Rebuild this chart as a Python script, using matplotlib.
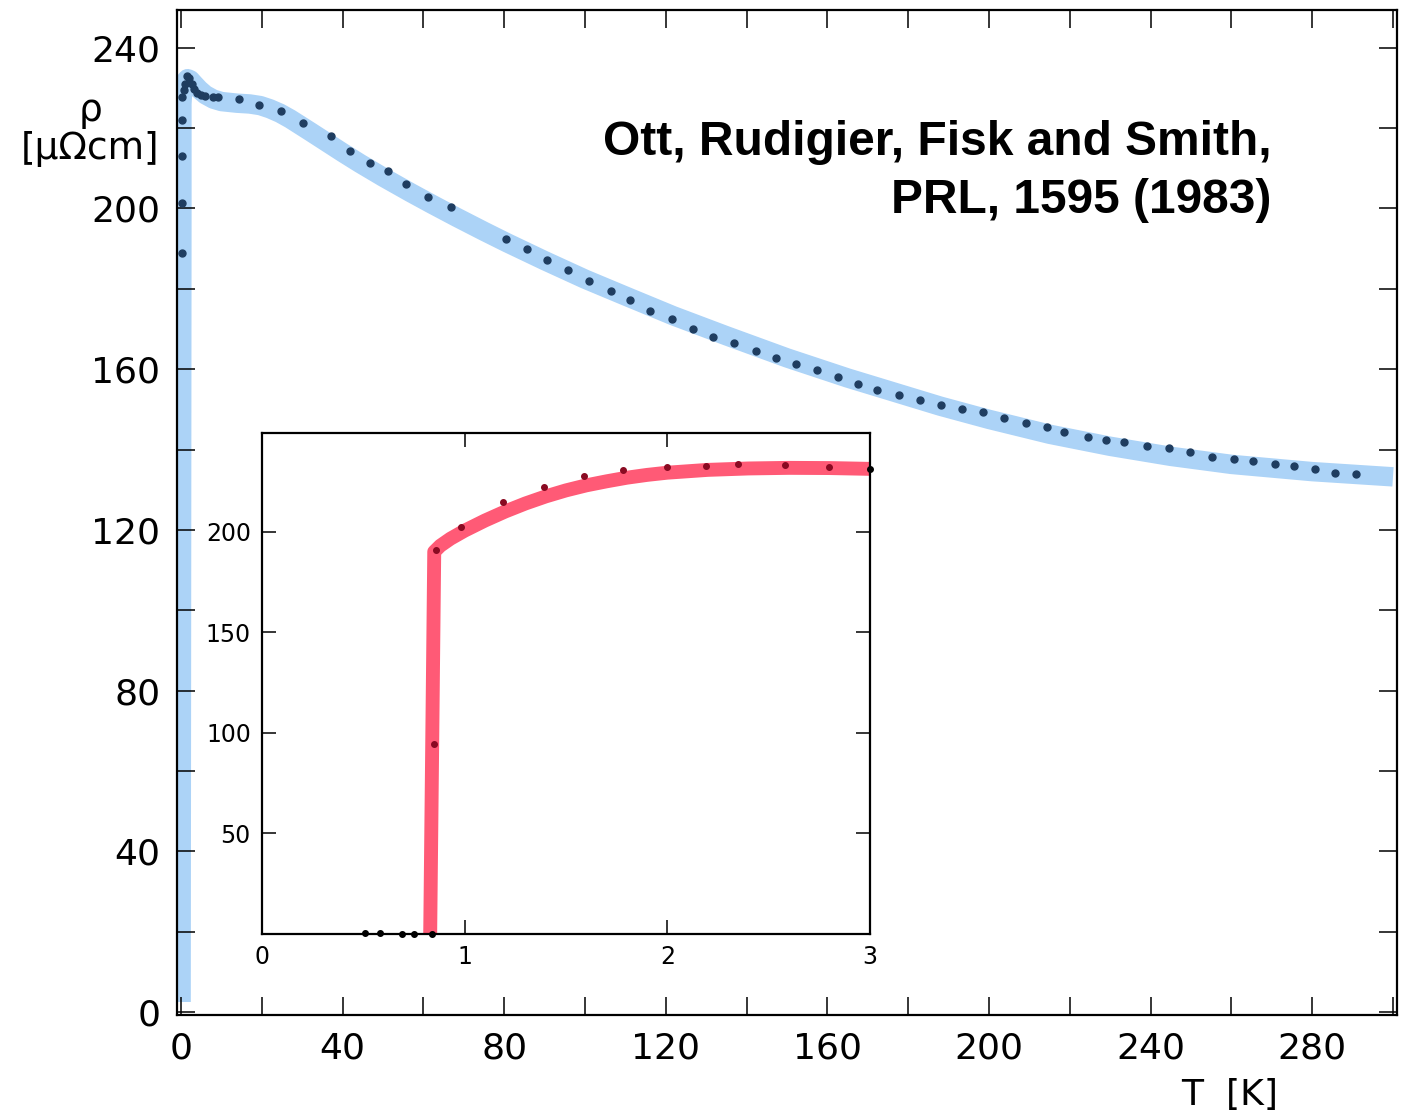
import matplotlib
matplotlib.use("Agg")
import matplotlib.pyplot as plt
from matplotlib.ticker import MultipleLocator

# main panel: measured points (T in K, rho in micro-ohm cm)
T_main = [0.2, 0.2, 0.2, 0.2, 0.3, 0.6, 1.0, 1.5, 2.0, 2.6, 3.2, 4.0, 5.0, 6.0,
          7.9, 9.2, 14.4, 19.3, 24.7, 30.3, 37.1, 41.8, 46.8, 51.1, 55.7,
          61.2, 66.8, 80.4, 85.6, 90.7, 95.9, 101.0, 106.4, 111.1, 116.1,
          121.5, 126.6, 131.6, 136.9, 142.3, 147.2, 152.2, 157.4, 162.6,
          167.6, 172.3, 177.7, 182.9, 188.1, 193.2, 198.6, 203.7, 209.1,
          214.3, 218.6, 224.4, 229.0, 233.4, 239.0, 244.6, 249.8, 255.3,
          260.7, 265.4, 270.8, 275.5, 280.7, 285.7, 290.8]
rho_main = [189.0, 201.3, 213.1, 222.0, 227.8, 229.5, 231.0, 233.0, 232.5,
            231.0, 229.8, 228.8, 228.2, 228.0, 227.8, 227.7, 227.2, 225.7,
            224.3, 221.2, 218.0, 214.2, 211.4, 209.2, 206.2, 202.8, 200.4,
            192.3, 189.8, 187.2, 184.7, 182.0, 179.4, 177.2, 174.5, 172.6,
            170.0, 168.1, 166.6, 164.6, 162.9, 161.3, 159.8, 158.0, 156.3,
            154.8, 153.6, 152.3, 151.2, 150.0, 149.3, 147.8, 146.7, 145.7,
            144.4, 143.0, 142.4, 141.9, 141.0, 140.3, 139.4, 138.2, 137.6,
            137.2, 136.3, 135.9, 135.1, 134.1, 133.8]

# main panel: highlighted guide band
T_band = [0.0, 0.2, 0.2, 0.4, 0.9, 1.6, 2.3, 3.2, 4.5, 6.0, 8.0, 10.0, 13.8,
          17.0, 19.6, 22.0, 24.5, 27.0, 29.5, 32.0, 36.0, 40.0, 44.3, 50.0,
          56.7, 62.0, 68.2, 75.0, 80.6, 90.0, 100.0, 110.0, 121.8, 135.0,
          150.0, 165.0, 187.9, 200.0, 215.0, 230.0, 245.0, 260.0, 280.0, 300.0]
rho_band = [2.5, 200.0, 226.0, 229.5, 231.5, 232.3, 232.0, 231.0, 229.6,
            228.3, 227.2, 226.6, 226.2, 226.0, 225.6, 224.8, 223.7, 222.3,
            220.7, 219.1, 216.5, 213.9, 211.2, 207.8, 204.0, 201.1, 197.8,
            194.3, 191.5, 187.0, 182.4, 178.2, 173.3, 168.3, 162.8, 157.8,
            150.8, 147.5, 143.8, 140.8, 138.3, 136.3, 134.5, 133.2]

# inset: low temperature points (T in K)
T_in = [0.51, 0.58, 0.69, 0.75, 0.84, 0.85, 0.86, 0.98, 1.19, 1.39, 1.59,
        1.78, 2.0, 2.19, 2.35, 2.58, 2.80, 3.0]
rho_in = [0.3, 0.3, 0.0, 0.0, 0.0, 94.6, 190.7, 202.2, 214.6, 222.1, 227.6,
          230.6, 232.0, 232.6, 233.6, 233.1, 232.1, 231.1]

T_inband = [0.83, 0.85, 0.88, 0.93, 1.0, 1.1, 1.2, 1.3, 1.4, 1.5, 1.6, 1.7,
            1.8, 1.9, 2.0, 2.2, 2.4, 2.6, 2.8, 3.0]
rho_inband = [0.0, 190.0, 193.0, 196.5, 200.5, 205.5, 210.0, 214.0, 217.5,
              220.5, 223.0, 225.0, 226.8, 228.2, 229.3, 230.7, 231.4, 231.7,
              231.6, 231.2]

main_xticks = [0, 40, 80, 120, 160, 200, 240, 280]
main_yticks = [0, 40, 80, 120, 160, 200, 240]
inset_xticks = [0, 1, 2, 3]
inset_yticks = [50, 100, 150, 200]

BLUE = "#acd3f7"
NAVY = "#1f3d60"
RED = "#ff5a76"
DARKRED = "#8a0a22"

fig = plt.figure(figsize=(14.13, 11.19), dpi=100)
ax = fig.add_axes([0.1253, 0.0929, 0.8634, 0.8982])

ax.plot(T_band, rho_band, color=BLUE, linewidth=14, solid_capstyle="butt",
        solid_joinstyle="round", zorder=1)
ax.plot(T_main, rho_main, "o", color=NAVY, markersize=5, zorder=2)

ax.set_xlim(-1.0, 301.0)
ax.set_ylim(-0.75, 249.4)
ax.xaxis.set_major_locator(plt.FixedLocator(main_xticks))
ax.yaxis.set_major_locator(plt.FixedLocator(main_yticks))
ax.xaxis.set_minor_locator(MultipleLocator(20))
ax.yaxis.set_minor_locator(MultipleLocator(20))
ax.tick_params(which="both", direction="in", top=True, right=True,
               length=13, width=1.1, color="black")
ax.tick_params(which="major", labelsize=26, pad=12)
for s in ax.spines.values():
    s.set_linewidth(1.6)

fig.text(1230 / 1413, 1 - 1095 / 1119, "T  [K]", fontsize=26,
         ha="center", va="center")
fig.text(90 / 1413, 1 - 130 / 1119, "ρ\n[μΩcm]", fontsize=27,
         ha="center", va="center", linespacing=1.1)

ax.text(0.897, 0.891, "Ott, Rudigier, Fisk and Smith,\nPRL, 1595 (1983)",
        transform=ax.transAxes, ha="right", va="top", fontsize=34.5,
        fontweight="bold", family="Liberation Sans", linespacing=1.38)

# inset
axi = fig.add_axes([0.1854, 0.1653, 0.4303, 0.4477])
axi.plot(T_inband, rho_inband, color=RED, linewidth=10, solid_capstyle="butt",
         solid_joinstyle="round", zorder=1)
axi.plot(T_in[5:-1], rho_in[5:-1], "o", color=DARKRED, markersize=4, zorder=2)
axi.plot(T_in[:5] + T_in[-1:], rho_in[:5] + rho_in[-1:], "o", color="black",
         markersize=4, zorder=3, clip_on=False)
axi.set_xlim(0, 3)
axi.set_ylim(0, 249)
axi.xaxis.set_major_locator(plt.FixedLocator(inset_xticks))
axi.yaxis.set_major_locator(plt.FixedLocator(inset_yticks))
axi.tick_params(which="major", direction="in", top=True, right=True,
                length=10, width=1.1, labelsize=17, pad=8)
for s in axi.spines.values():
    s.set_linewidth(1.6)

fig.savefig("out.png", dpi=100)
